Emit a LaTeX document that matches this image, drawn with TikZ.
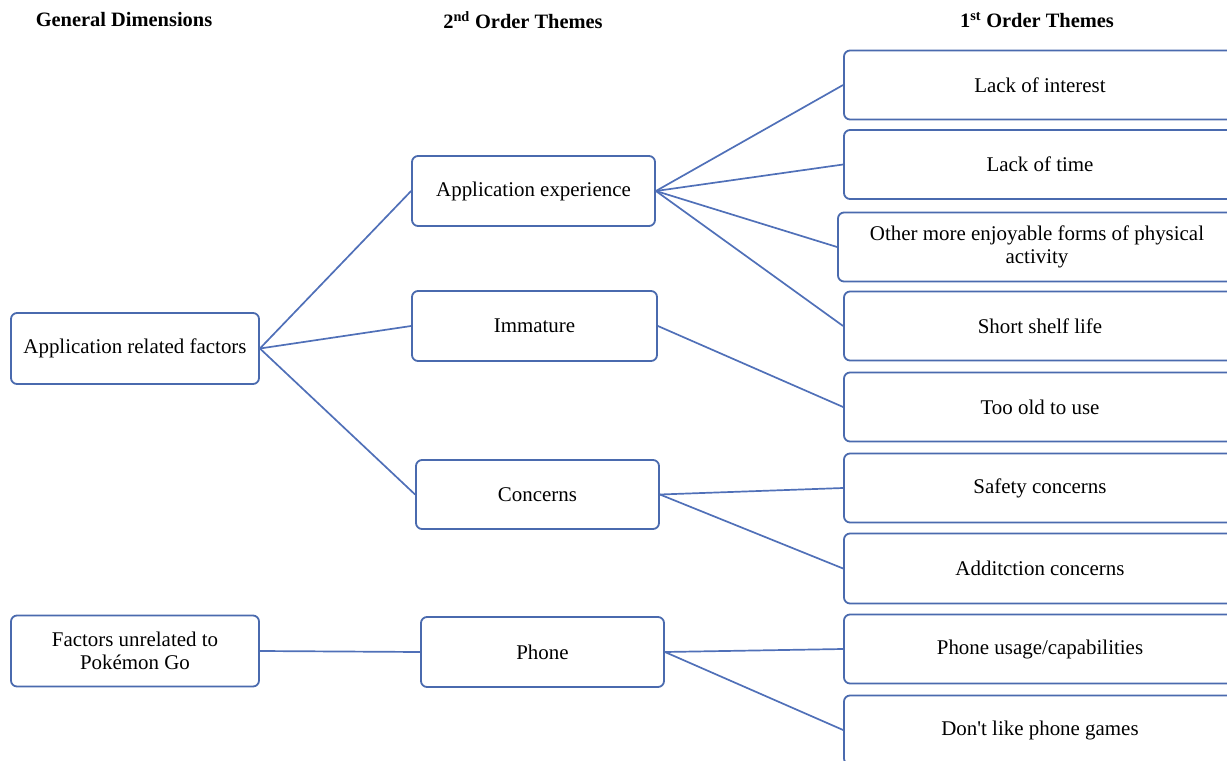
\documentclass[tikz,border=0pt]{standalone}
\usepackage{fontspec}
\setmainfont{Liberation Serif}
\definecolor{boxblue}{HTML}{4A6AAE}
\definecolor{lineblue}{HTML}{5070B8}
\begin{document}
\begin{tikzpicture}[x=1bp,y=-1bp,
  box/.style={draw=boxblue,line width=1.8bp,rounded corners=6bp,fill=white,inner sep=0pt,align=center,font=\fontsize{21}{23}\selectfont},
  hdr/.style={font=\fontsize{20.5}{22}\selectfont\bfseries,inner sep=0pt},
  link/.style={draw=lineblue,line width=1.7bp}]
\useasboundingbox (0,0) rectangle (1227,761);
\clip (0,0) rectangle (1227,761);
% headers
\node[hdr] (h1) at (124,20) {General Dimensions};
\node[hdr] (h2) at (523,20) {2\textsuperscript{nd} Order Themes};
\node[hdr] (h3) at (1037,20) {1\textsuperscript{st} Order Themes};
% left
\node[box,minimum width=248bp,minimum height=71bp] (arf) at (135,348.5) {Application related factors};
\node[box,minimum width=248bp,minimum height=71bp] (fun) at (135,651) {Factors unrelated to\\Pokémon Go};
% middle
\node[box,minimum width=243bp,minimum height=70bp] (ae) at (533.5,191) {Application experience};
\node[box,minimum width=245bp,minimum height=70bp] (imm) at (534.5,326) {Immature};
\node[box,minimum width=243bp,minimum height=69bp] (con) at (537.5,494.5) {Concerns};
\node[box,minimum width=243bp,minimum height=70bp] (pho) at (542.5,652) {Phone};
% right
\node[box,minimum width=392bp,minimum height=69bp] (r1) at (1040,85) {Lack of interest};
\node[box,minimum width=392bp,minimum height=69bp] (r2) at (1040,164.5) {Lack of time};
\node[box,minimum width=398bp,minimum height=69bp] (r3) at (1037,247) {Other more enjoyable forms of physical\\activity};
\node[box,minimum width=392bp,minimum height=69bp] (r4) at (1040,326) {Short shelf life};
\node[box,minimum width=392bp,minimum height=69bp] (r5) at (1040,407) {Too old to use};
\node[box,minimum width=392bp,minimum height=69bp] (r6) at (1040,488) {Safety concerns};
\node[box,minimum width=392bp,minimum height=70bp] (r7) at (1040,568.5) {Additction concerns};
\node[box,minimum width=392bp,minimum height=69bp] (r8) at (1040,649) {Phone usage/capabilities};
\node[box,minimum width=392bp,minimum height=69bp] (r9) at (1040,730) {Don\textquotesingle t like phone games};
% connectors
\path[link] (arf.east) -- (ae.west);
\path[link] (arf.east) -- (imm.west);
\path[link] (arf.east) -- (con.west);
\path[link] (fun.east) -- (pho.west);
\path[link] (ae.east) -- (r1.west);
\path[link] (ae.east) -- (r2.west);
\path[link] (ae.east) -- (r3.west);
\path[link] (ae.east) -- (r4.west);
\path[link] (imm.east) -- (r5.west);
\path[link] (con.east) -- (r6.west);
\path[link] (con.east) -- (r7.west);
\path[link] (pho.east) -- (r8.west);
\path[link] (pho.east) -- (r9.west);
\end{tikzpicture}
\end{document}
